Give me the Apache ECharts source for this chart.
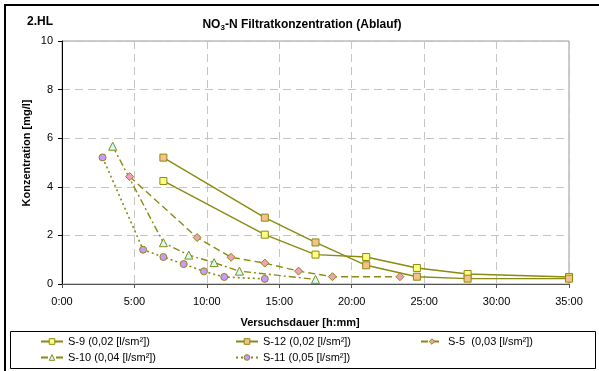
<!DOCTYPE html>
<html><head><meta charset="utf-8">
<script src="https://cdn.jsdelivr.net/npm/echarts@6/dist/echarts.min.js"></script>
<style>html,body{margin:0;padding:0;background:#fff}#c{width:599px;height:371px}</style>
</head><body><div id="c"></div>
<script>
// ---- data (x in hours, y in mg/l) ----
const xTickLabels = ['0:00','5:00','10:00','15:00','20:00','25:00','30:00','35:00'];
const yTickLabels = ['0','2','4','6','8','10'];
const seriesNames = ['S-9 (0,02 [l/sm²])','S-12 (0,02 [l/sm²])','S-5  (0,03 [l/sm²])','S-10 (0,04 [l/sm²])','S-11 (0,05 [l/sm²])'];
const s9x  = [7, 14, 17.5, 21, 24.5, 28, 35];
const s9y  = [4.24, 2.03, 1.21, 1.11, 0.66, 0.41, 0.29];
const s12x = [7, 14, 17.5, 21, 24.5, 28, 35];
const s12y = [5.2, 2.73, 1.71, 0.77, 0.30, 0.22, 0.22];
const s5x  = [4.67, 9.33, 11.67, 14, 16.33, 18.67, 23.33];
const s5y  = [4.42, 1.91, 1.10, 0.86, 0.53, 0.30, 0.30];
const s10x = [3.5, 7, 8.75, 10.5, 12.25, 17.5];
const s10y = [5.67, 1.70, 1.19, 0.88, 0.53, 0.19];
const s11x = [2.8, 5.6, 7, 8.4, 9.8, 11.2, 14];
const s11y = [5.21, 1.41, 1.11, 0.82, 0.52, 0.29, 0.21];

const pairs = (xs, ys) => xs.map((x, i) => [x, ys[i]]);
const OLIVE = '#8a8a10';
const FONT = 'Liberation Sans, Arial, sans-serif';
const fills = ['#ffff80', '#f6c08c', '#f4a0b4', '#ccffff', '#cc99ff'];
const dashes = ['solid', 'solid', [7, 4], [7, 3, 2, 3], [2, 3]];

function mk(name, xs, ys, symbol, size, fill, dash, w) {
  return {
    name, type: 'line', data: pairs(xs, ys), symbol, symbolSize: size,
    itemStyle: { color: fill, borderColor: OLIVE, borderWidth: 1 },
    lineStyle: { color: OLIVE, width: w, type: dash },
    emphasis: { disabled: true }, z: 3
  };
}

const series = [
  mk(seriesNames[0], s9x, s9y, 'rect', 7, fills[0], dashes[0], 1.4),
  mk(seriesNames[1], s12x, s12y, 'rect', 7, fills[1], dashes[1], 1.4),
  mk(seriesNames[2], s5x, s5y, 'diamond', 8, fills[2], dashes[2], 1.4),
  mk(seriesNames[3], s10x, s10y, 'triangle', 8, fills[3], dashes[3], 1.4),
  mk(seriesNames[4], s11x, s11y, 'circle', 7, fills[4], dashes[4], 1.6)
];

const legPos = [[40, 336], [235, 336], [420, 336], [40, 352], [235, 352]];
const legends = seriesNames.map((n, i) => ({
  data: [{ name: n, itemStyle: { color: fills[i], borderColor: OLIVE, borderWidth: 1 } }],
  left: legPos[i][0], top: legPos[i][1], orient: 'horizontal',
  itemWidth: 22, itemHeight: 7, padding: 0, itemGap: 0, selectedMode: false,
  itemStyle: { color: fills[i], borderColor: OLIVE, borderWidth: 1 },
  textStyle: { fontFamily: FONT, fontSize: 11, color: '#000' }
}));

const chart = echarts.init(document.getElementById('c'), null, { renderer: 'canvas' });
chart.setOption({
  animation: false,
  backgroundColor: '#fff',
  grid: { left: 62, top: 41, width: 507, height: 243, show: true, borderColor: '#9a9a9a', borderWidth: 1, backgroundColor: '#fff' },
  xAxis: {
    type: 'value', min: 0, max: 35, interval: 5,
    axisLine: { show: true, lineStyle: { color: '#555', width: 1 } },
    axisTick: { show: true, length: 4, lineStyle: { color: '#555' } },
    axisLabel: { margin: 12, fontFamily: FONT, fontSize: 11, color: '#000', formatter: v => xTickLabels[Math.round(v / 5)] },
    splitLine: { show: true, lineStyle: { color: '#c4c4c4', width: 1, type: [8, 5] } }
  },
  yAxis: {
    type: 'value', min: 0, max: 10, interval: 2,
    axisLine: { show: true, lineStyle: { color: '#000', width: 1 } },
    axisTick: { show: true, length: 4, lineStyle: { color: '#000' } },
    axisLabel: { margin: 9, fontFamily: FONT, fontSize: 11, color: '#000', formatter: v => yTickLabels[Math.round(v / 2)] },
    splitLine: { show: true, lineStyle: { color: '#c4c4c4', width: 1, type: [8, 5] } }
  },
  legend: legends,
  series,
  graphic: [
    { type: 'rect', shape: { x: 5, y: 5, width: 640, height: 420 }, style: { fill: null, stroke: '#000', lineWidth: 2 }, z: 100, silent: true },
    { type: 'rect', shape: { x: 10.5, y: 331.5, width: 585, height: 37 }, style: { fill: null, stroke: '#000', lineWidth: 1 }, z: 100, silent: true },
    { type: 'text', left: 27, top: 16, style: { text: '2.HL', fontFamily: FONT, fontSize: 12, fontWeight: 'bold', fill: '#000' }, z: 100 },
    { type: 'text', x: 302, y: 25, style: {
        text: '{b|NO}{s|3}{b|-N Filtratkonzentration (Ablauf)}',
        align: 'center', verticalAlign: 'middle',
        rich: {
          b: { fontFamily: FONT, fontSize: 12, fontWeight: 'bold', fill: '#000', lineHeight: 14 },
          s: { fontFamily: FONT, fontSize: 8, fontWeight: 'bold', fill: '#000', lineHeight: 14, verticalAlign: 'bottom', padding: [7, 0, 0, 0] }
        } }, z: 100 },
    { type: 'text', x: 27, y: 153, rotation: Math.PI / 2, style: { text: 'Konzentration [mg/l]', align: 'center', verticalAlign: 'middle', fontFamily: FONT, fontSize: 11, fontWeight: 'bold', fill: '#000' }, z: 100 },
    { type: 'text', x: 300, y: 323, style: { text: 'Versuchsdauer [h:mm]', align: 'center', verticalAlign: 'middle', fontFamily: FONT, fontSize: 11, fontWeight: 'bold', fill: '#000' }, z: 100 }
  ]
});
</script></body></html>
